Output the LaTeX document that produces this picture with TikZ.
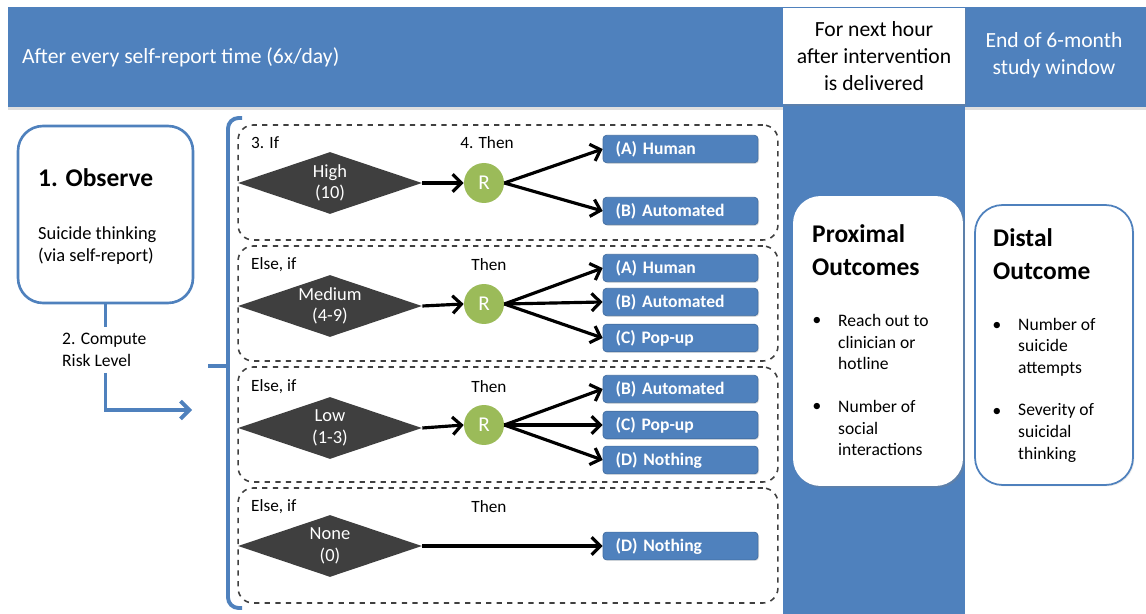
\documentclass[tikz,border=0pt]{standalone}
\usepackage{fontspec}
\setmainfont{Carlito}
\usepackage{xcolor}
\usepackage{tikz}
\usetikzlibrary{shapes.geometric,arrows.meta,shadows}

\definecolor{hdrblue}{HTML}{4F81BD}
\definecolor{rgreen}{HTML}{9BBB59}
\definecolor{darkdia}{HTML}{3F3F3F}

\begin{document}
\begin{tikzpicture}[
        x=0.02cm, y=-0.02cm,
        font=\fontsize{10.5}{12.5}\selectfont,
        headtext/.style={
            align=center,
            font=\fontsize{12.3}{15.3}\selectfont
        },
        obsbox/.style={
            rectangle,
            draw=hdrblue,
            line width=1.5pt,
            fill=white,
            rounded corners=0.5cm,
            minimum width=3.5cm,
            minimum height=3.54cm
        },
        rowbox/.style={
            rectangle,
            draw=black!75,
            dashed,
            line width=0.9pt,
            rounded corners=0.3cm,
            minimum width=10.8cm,
            minimum height=2.3cm
        },
        riskdia/.style={
            diamond,
            aspect=3,
            fill=darkdia,
            text=white,
            inner sep=0pt,
            align=center,
            minimum width=3.68cm,
            minimum height=1.24cm,
            font=\fontsize{10.5}{12.3}\selectfont
        },
        rnode/.style={
            circle,
            fill=rgreen,
            text=white,
            inner sep=0pt,
            minimum size=0.8cm,
            font=\fontsize{12}{13}\selectfont
        },
        option/.style={
            rectangle,
            fill=hdrblue,
            draw=hdrblue!85!black,
            rounded corners=2pt,
            text=white,
            align=left,
            text width=2.6cm,
            minimum width=3.1cm,
            minimum height=0.52cm,
            font=\fontsize{10}{11}\selectfont\bfseries,
            drop shadow={opacity=0.25,shadow xshift=0.6pt,shadow yshift=-0.6pt}
        },
        rowlabel/.style={font=\fontsize{9.8}{11}\selectfont},
        flow/.style={line width=1.8pt, -{Straight Barb[length=5pt,width=10pt]}},
        blueline/.style={draw=hdrblue, line width=2.2pt},
        outbox/.style={
            rectangle,
            fill=white,
            rounded corners=0.55cm,
            minimum width=3.4cm,
            minimum height=5.8cm
        },
        outtitle/.style={align=left, anchor=west, font=\fontsize{14.5}{18.5}\selectfont\bfseries},
        itemtext/.style={align=left, anchor=west, font=\fontsize{10}{12.3}\selectfont},
        dotmark/.style={font=\fontsize{9}{10}\selectfont}
    ]

    \useasboundingbox (0,0) rectangle (1146,614);

    % ---------- Header band and time columns ----------
    \fill[hdrblue, drop shadow={opacity=0.25,shadow xshift=0pt,shadow yshift=-1.5pt}] (8,7) rectangle (1146,107);
    \fill[hdrblue] (783,105) rectangle (965,614);
    \node[headtext, text=white, anchor=west] (hdr) at (16,57) {After every self-report time (6x/day)};
    \node[headtext, rectangle, fill=white, minimum width=3.64cm, minimum height=1.94cm,
          drop shadow={opacity=0.25,shadow xshift=0.8pt,shadow yshift=-0.8pt}] (nexthr) at (874,56)
        {For next hour\\after intervention\\is delivered};
    \node[headtext, text=white] (endwin) at (1054,55) {End of 6-month\\study window};

    % ---------- Observe and compute ----------
    \node[obsbox] (obs) at (105.5,214.5) {};
    \node[anchor=west, font=\fontsize{14.5}{16}\selectfont\bfseries] (obstitle) at (32,178) {1. Observe};
    \node[anchor=west, align=left] (obstext) at (32,246) {Suicide thinking\\(via self-report)};
    \node[anchor=west, align=left, font=\fontsize{10}{12.5}\selectfont] (compute) at (56,350) {2. Compute\\Risk Level};
    \coordinate (brtip) at (192,410);
    \draw[blueline] (obs.south) -- (obs.south |- compute.north);
    \draw[blueline, -{Straight Barb[length=5pt,width=10pt]}] (obs.south |- compute.south) |- (brtip);

    % bracket round the decision rules
    \coordinate (brtop) at (242,118);
    \coordinate (brbot) at (242,608);
    \coordinate (brmid) at (208,366);
    \draw[blueline, rounded corners=6pt] (brtop) -- (228,118) -- (228,608) -- (brbot);
    \draw[blueline] (brmid) -- (228,366);

    % ---------- Row 1: high risk ----------
    \node[rowbox] (row1) at (508,182.5) {};
    \node[rowlabel, anchor=west] (if1) at (245,143) {3. If};
    \node[rowlabel] (then1) at (487,143) {4. Then};
    \node[riskdia] (dia1) at (330,183) {High\\(10)};
    \node[rnode] (r1) at (484,183) {R};
    \node[option] (o1a) at (680.5,149) {(A) Human};
    \node[option] (o1b) at (680.5,211) {(B) Automated};
    \draw[flow] (dia1.east) -- (r1.west);
    \draw[flow] (r1.east) -- (o1a.west);
    \draw[flow] (r1.east) -- (o1b.west);

    % ---------- Row 2: medium risk ----------
    \node[rowbox] (row2) at (508,303.5) {};
    \node[rowlabel, anchor=west] (if2) at (245,265) {Else, if};
    \node[rowlabel] (then2) at (489,265) {Then};
    \node[riskdia] (dia2) at (330,306) {Medium\\(4-9)};
    \node[rnode] (r2) at (484,304) {R};
    \node[option] (o2a) at (680.5,268) {(A) Human};
    \node[option] (o2b) at (680.5,302) {(B) Automated};
    \node[option] (o2c) at (680.5,338) {(C) Pop-up};
    \draw[flow] (dia2.east) -- (r2.west);
    \draw[flow] (r2.east) -- (o2a.west);
    \draw[flow] (r2.east) -- (o2b.west);
    \draw[flow] (r2.east) -- (o2c.west);

    % ---------- Row 3: low risk ----------
    \node[rowbox] (row3) at (508,424.5) {};
    \node[rowlabel, anchor=west] (if3) at (245,387) {Else, if};
    \node[rowlabel] (then3) at (489,387) {Then};
    \node[riskdia] (dia3) at (330,428) {Low\\(1-3)};
    \node[rnode] (r3) at (484,425) {R};
    \node[option] (o3b) at (680.5,389) {(B) Automated};
    \node[option] (o3c) at (680.5,425) {(C) Pop-up};
    \node[option] (o3d) at (680.5,460) {(D) Nothing};
    \draw[flow] (dia3.east) -- (r3.west);
    \draw[flow] (r3.east) -- (o3b.west);
    \draw[flow] (r3.east) -- (o3c.west);
    \draw[flow] (r3.east) -- (o3d.west);

    % ---------- Row 4: no risk ----------
    \node[rowbox] (row4) at (508,545.5) {};
    \node[rowlabel, anchor=west] (if4) at (245,507) {Else, if};
    \node[rowlabel] (then4) at (489,507) {Then};
    \node[riskdia] (dia4) at (330,546) {None\\(0)};
    \node[option] (o4d) at (680.5,546) {(D) Nothing};
    \draw[flow] (dia4.east) -- (o4d.west);

    % ---------- Outcomes ----------
    \node[outbox, drop shadow={opacity=0.3,shadow xshift=1pt,shadow yshift=-1pt}] (prox) at (878,341) {};
    \node[outtitle] (proxtitle) at (806,250) {Proximal\\Outcomes};
    \node[dotmark] (p1dot) at (817,321) {$\bullet$};
    \node[itemtext] (p1) at (832,342) {Reach out to\\clinician or\\hotline};
    \node[dotmark] (p2dot) at (817,407) {$\bullet$};
    \node[itemtext] (p2) at (832,428) {Number of\\social\\interactions};

    \node[outbox, draw=hdrblue, line width=1pt, minimum width=3.16cm, minimum height=5.6cm,
          drop shadow={opacity=0.15,shadow xshift=0.8pt,shadow yshift=-0.8pt}] (dist) at (1054,345) {};
    \node[outtitle] (disttitle) at (987,254) {Distal\\Outcome};
    \node[dotmark] (d1dot) at (997,326) {$\bullet$};
    \node[itemtext] (d1) at (1012,347) {Number of\\suicide\\attempts};
    \node[dotmark] (d2dot) at (997,412) {$\bullet$};
    \node[itemtext] (d2) at (1012,433) {Severity of\\suicidal\\thinking};

\end{tikzpicture}
\end{document}
